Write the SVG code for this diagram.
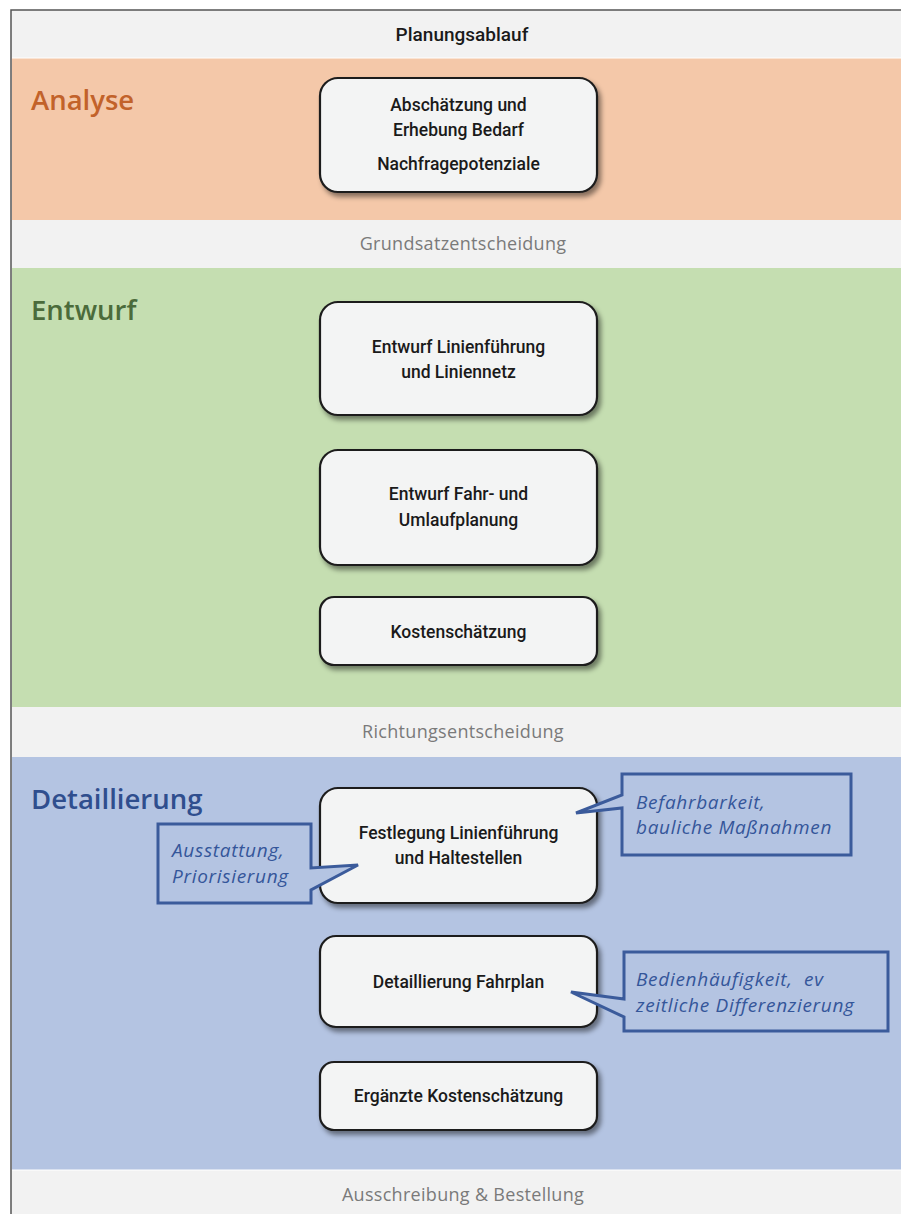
<svg xmlns="http://www.w3.org/2000/svg" width="901" height="1214" viewBox="0 0 901 1214">
<defs>
<filter id="sh" x="-10%" y="-10%" width="125%" height="130%">
<feDropShadow dx="3" dy="4" stdDeviation="2.5" flood-color="#000" flood-opacity="0.45"/>
</filter>
<style>
.box{fill:#f3f4f4;stroke:#1e1e1e;stroke-width:2.2;filter:url(#sh)}
.bt{font-family:Roboto,"Liberation Sans",Arial,sans-serif;font-size:17.5px;font-weight:500;fill:#1a1a1a;text-anchor:middle}
.band{font-family:"Open Sans","DejaVu Sans",sans-serif;font-size:18px;fill:#7a7a7a;text-anchor:middle;letter-spacing:0.3px}
.hd{font-family:"Open Sans","DejaVu Sans",sans-serif;font-size:27.5px;font-weight:600}
.co{fill:#b4c4e2;stroke:#3b5b9b;stroke-width:3;stroke-linejoin:miter}
.ct{font-family:"Open Sans","DejaVu Sans",sans-serif;font-size:19px;font-style:italic;font-weight:500;fill:#34569a;letter-spacing:0.7px}
</style>
</defs>
<g id="background">
<rect x="11" y="10" width="895" height="1210" fill="#f2f2f2" stroke="#555" stroke-width="1.5"/>
<rect x="12" y="58" width="889" height="162" fill="#f4c8a9"/>
<rect x="12" y="268" width="889" height="439" fill="#c5deb1"/>
<rect x="12" y="757" width="889" height="413" fill="#b4c4e2"/>
<line x1="12" y1="58" x2="901" y2="58" stroke="#fff" stroke-width="1"/>
<line x1="12" y1="1170" x2="901" y2="1170" stroke="#fff" stroke-width="1"/>
</g>
<g id="labels">
<text x="462" y="41" class="bt" style="font-size:19px">Planungsablauf</text>
<text x="463" y="250" class="band">Grundsatzentscheidung</text>
<text x="463" y="738" class="band">Richtungsentscheidung</text>
<text x="463" y="1201" class="band">Ausschreibung &amp; Bestellung</text>
<text x="31" y="110" class="hd" fill="#c2622a">Analyse</text>
<text x="31" y="320" class="hd" fill="#4b6b3b">Entwurf</text>
<text x="31" y="809" class="hd" fill="#2f4e8e">Detaillierung</text>
</g>
<g id="n-analyse">
<rect class="box" x="320" y="78" width="277" height="114" rx="18"/>
<text class="bt" x="458.5" y="111">Abschätzung und</text>
<text class="bt" x="458.5" y="136">Erhebung Bedarf</text>
<text class="bt" x="458.5" y="170">Nachfragepotenziale</text>
</g>
<g id="n-linien">
<rect class="box" x="320" y="302" width="277" height="113" rx="18"/>
<text class="bt" x="458.5" y="353">Entwurf Linienführung</text>
<text class="bt" x="458.5" y="378">und Liniennetz</text>
</g>
<g id="n-fahr">
<rect class="box" x="320" y="450" width="277" height="115" rx="18"/>
<text class="bt" x="458.5" y="500">Entwurf Fahr- und</text>
<text class="bt" x="458.5" y="526">Umlaufplanung</text>
</g>
<g id="n-kosten">
<rect class="box" x="320" y="597" width="277" height="68" rx="14"/>
<text class="bt" x="458.5" y="638">Kostenschätzung</text>
</g>
<g id="n-festlegung">
<rect class="box" x="320" y="788" width="277" height="115" rx="18"/>
<text class="bt" x="458.5" y="839">Festlegung Linienführung</text>
<text class="bt" x="458.5" y="864">und Haltestellen</text>
</g>
<g id="n-detail">
<rect class="box" x="320" y="936" width="277" height="91" rx="16"/>
<text class="bt" x="458.5" y="988">Detaillierung Fahrplan</text>
</g>
<g id="n-ergaenzt">
<rect class="box" x="320" y="1062" width="277" height="68" rx="14"/>
<text class="bt" x="458.5" y="1102">Ergänzte Kostenschätzung</text>
</g>
<g id="callouts">
<g id="c-befahr">
<path class="co" d="M622,774 H851 V855 H622 V808 L576,813 L622,795 Z"/>
<text class="ct" x="636" y="809">Befahrbarkeit,</text>
<text class="ct" x="636" y="834">bauliche Maßnahmen</text>
</g>
<g id="c-ausstatt">
<path class="co" d="M158,824 H311 V868 L358,865 L311,890 V903 H158 Z"/>
<text class="ct" x="172" y="857">Ausstattung,</text>
<text class="ct" x="172" y="883">Priorisierung</text>
</g>
<g id="c-bedien">
<path class="co" d="M624,952 H888 V1031 H624 V1017 L571,992 L624,999 Z"/>
<text class="ct" x="636" y="986" xml:space="preserve">Bedienhäufigkeit,  ev</text>
<text class="ct" x="636" y="1012">zeitliche Differenzierung</text>
</g>
</g>
</svg>
